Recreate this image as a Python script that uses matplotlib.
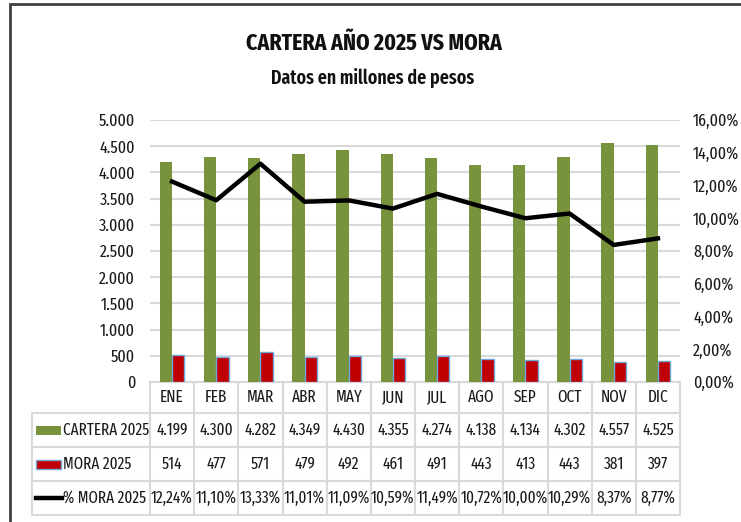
import numpy as np
import matplotlib.pyplot as plt
from matplotlib.patches import Rectangle
from matplotlib.ticker import FuncFormatter

# data
meses = ['ENE', 'FEB', 'MAR', 'ABR', 'MAY', 'JUN', 'JUL', 'AGO', 'SEP', 'OCT', 'NOV', 'DIC']
cartera = [4199, 4300, 4282, 4349, 4430, 4355, 4274, 4138, 4134, 4302, 4557, 4525]
mora = [514, 477, 571, 479, 492, 461, 491, 443, 413, 443, 381, 397]
pct_mora = [12.24, 11.10, 13.33, 11.01, 11.09, 10.59, 11.49, 10.72, 10.00, 10.29, 8.37, 8.77]

plt.rcParams['font.family'] = ['Fira Sans Extra Condensed', 'DejaVu Sans']

W, H = 741, 522
verde = '#77933C'
rojo = '#C00000'
borde_rojo = '#6FA8DC'
gris = '#D9D9D9'
txt = '#1a1a1a'

fig = plt.figure(figsize=(W / 100, H / 100), dpi=100)

# overlay in pixel coords for frame, titles and table
ov = fig.add_axes([0, 0, 1, 1], zorder=0)
ov.set_xlim(0, W)
ov.set_ylim(H, 0)
ov.axis('off')

# plot area
x0, x1, ytop, ybot = 150, 680, 120, 382
ax = fig.add_axes([x0 / W, 1 - ybot / H, (x1 - x0) / W, (ybot - ytop) / H], zorder=2)
ax.patch.set_alpha(0)
x = np.arange(len(meses))
ax.bar(x - 0.14, cartera, width=0.28, color=verde, zorder=3)
ax.bar(x + 0.14, mora, width=0.28, color=rojo, edgecolor=borde_rojo, linewidth=1, zorder=3)
ax.set_xlim(-0.5, len(meses) - 0.5)
ax.set_ylim(0, 5000)
ax.set_yticks(np.arange(0, 5001, 500))
ax.yaxis.set_major_formatter(FuncFormatter(lambda v, p: f'{int(v):,}'.replace(',', '.')))
ax.set_xticks([])
ax.grid(axis='y', color=gris, linewidth=1.5, zorder=0)
for s in ['top', 'left', 'right']:
    ax.spines[s].set_visible(False)
ax.spines['bottom'].set_color(gris)
ax.spines['bottom'].set_linewidth(1.5)
ax.tick_params(axis='y', length=0, pad=10.8, labelsize=12.5, labelcolor=txt)

ax2 = ax.twinx()
ax2.plot(x, np.array(pct_mora) / 100, color='black', linewidth=3.2, zorder=4)
ax2.set_ylim(0, 0.16)
ax2.set_yticks(np.arange(0, 0.1601, 0.02))
ax2.yaxis.set_major_formatter(FuncFormatter(lambda v, p: f'{v * 100:.2f}%'.replace('.', ',')))
for s in ax2.spines.values():
    s.set_visible(False)
ax2.tick_params(axis='y', length=0, pad=9.4, labelsize=12.5, labelcolor=txt)

# frame
ov.plot([10, 10, W], [H, 4, 4], color='#404040', linewidth=2, solid_joinstyle='miter')

# titles
ov.text(374, 43, 'CARTERA AÑO 2025 VS MORA', ha='center', va='center',
        fontsize=17, fontweight='bold', color='#111111')
ov.text(373, 78, 'Datos en millones de pesos', ha='center', va='center',
        fontsize=14, fontweight='semibold', color='#111111')

# data table
cw = (x1 - x0) / len(meses)
filas = [382, 413, 447, 481, 515]
tleft = 32
for yy in filas[1:]:
    ov.plot([tleft, x1], [yy, yy], color=gris, linewidth=1.5, zorder=1)
ov.plot([tleft, tleft], [filas[1], filas[-1]], color=gris, linewidth=1.5, zorder=1)
for i in range(len(meses) + 1):
    xe = x0 + i * cw
    ov.plot([xe, xe], [filas[0], filas[-1]], color=gris, linewidth=1.5, zorder=1)

fs = 12
def centro(r):
    return (filas[r] + filas[r + 1]) / 2

for i, m in enumerate(meses):
    xc = x0 + (i + 0.5) * cw
    ov.text(xc, centro(0), m, ha='center', va='center', fontsize=fs, color=txt)
    ov.text(xc, centro(1), f'{cartera[i]:,}'.replace(',', '.'), ha='center', va='center',
            fontsize=fs, color=txt)
    ov.text(xc, centro(2), str(mora[i]), ha='center', va='center', fontsize=fs, color=txt)
    ov.text(xc, centro(3), f'{pct_mora[i]:.2f}%'.replace('.', ','), ha='center', va='center',
            fontsize=fs, color=txt)

# legend keys
ov.add_patch(Rectangle((36, centro(1) - 4.5), 25, 9, facecolor=verde, edgecolor='none'))
ov.add_patch(Rectangle((36, centro(2) - 4.5), 25, 9, facecolor=rojo, edgecolor=borde_rojo, linewidth=1))
ov.plot([36, 62], [centro(3), centro(3)], color='black', linewidth=3.2)
fs_leg = 11.8
ov.text(63, centro(1), 'CARTERA 2025', ha='left', va='center', fontsize=fs_leg, color=txt)
ov.text(63, centro(2), 'MORA 2025', ha='left', va='center', fontsize=fs_leg, color=txt)
ov.text(63, centro(3), '% MORA 2025', ha='left', va='center', fontsize=fs_leg, color=txt)

fig.savefig('out.png', dpi=100)
